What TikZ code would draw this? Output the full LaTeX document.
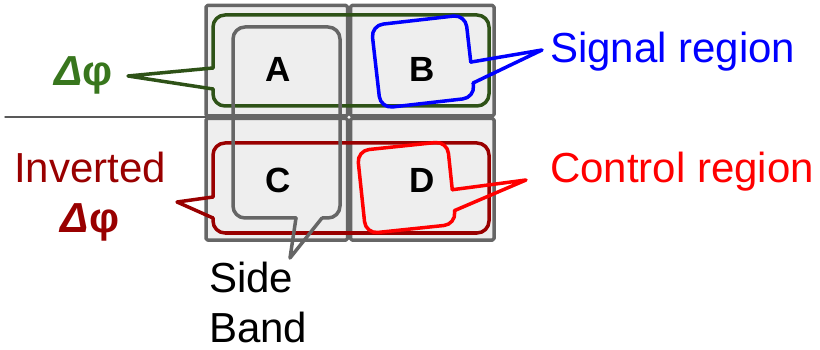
\documentclass[tikz,border=0pt]{standalone}
\usepackage{fontspec}
\setmainfont{Liberation Sans}
\definecolor{gridgray}{HTML}{666666}
\definecolor{rulegray}{HTML}{595959}
\definecolor{cellfill}{HTML}{EEEEEE}
\definecolor{boxgreen}{HTML}{2E5217}
\definecolor{dphigreen}{HTML}{38761D}
\definecolor{darkred}{HTML}{990000}
\definecolor{sigblue}{HTML}{0000FF}
\definecolor{ctrlred}{HTML}{FF0000}
\begin{document}
\begin{tikzpicture}[x=1pt,y=-1pt,line join=round,line cap=round,
  cellbox/.style={draw=gridgray,fill=cellfill,line width=3.5pt,rounded corners=1.5pt},
  callout/.style={line width=3.5pt,rounded corners=12pt},
  pointer/.style={line width=3.5pt,sharp corners},
  letter/.style={font=\fontsize{35}{40}\selectfont\bfseries,inner sep=0pt},
  txt/.style={font=\fontsize{42}{50}\selectfont,inner sep=0pt},
]
\useasboundingbox (0,0) rectangle (820,350);

% separator rule
\draw[draw=rulegray,line width=1.5pt] (5,117) -- (206,117);

% the four cells
\draw[cellbox] (206,5.5) rectangle (347.5,116);
\draw[cellbox] (350.5,5.5) rectangle (494,116);
\draw[cellbox] (206,118.5) rectangle (347.5,240);
\draw[cellbox] (350.5,118.5) rectangle (494,240);

\node[letter] (A) at (278,69) {A};
\node[letter] (B) at (422,69) {B};
\node[letter] (C) at (278,180) {C};
\node[letter] (D) at (422,180) {D};

% labels
\node[txt,text=dphigreen,anchor=base west,font=\fontsize{42}{50}\selectfont\bfseries] (dphi) at (54,86) {\textit{Δ}φ};
\node[txt,text=darkred,align=center,anchor=north] (inv) at (90,152) {Inverted\\\textbf{\textit{Δ}φ}};
\node[txt,anchor=north west,align=left] (side) at (209,262) {Side\\Band};
\node[txt,text=sigblue,anchor=base west] (sig) at (550,63) {Signal region};
\node[txt,text=ctrlred,anchor=base west] (ctl) at (550,183) {Control region};

% pointer tips
\coordinate (gtip) at (128,76);
\coordinate (rtip) at (177,202);
\coordinate (stip) at (290,258);
\coordinate (btip) at (542,50);
\coordinate (ctip) at (526,180);

% delta-phi row callout
\draw[callout,draw=boxgreen] (213,89) -- (213,106) -- (489,106) -- (489,15) -- (213,15) -- (213,68);
\draw[pointer,draw=boxgreen] (213,68) -- (gtip) -- (213,89);

% inverted delta-phi row callout
\draw[callout,draw=darkred] (213,218) -- (213,233) -- (489,233) -- (489,143) -- (213,143) -- (213,197);
\draw[pointer,draw=darkred] (213,197) -- (rtip) -- (213,218);

% side band column callout
\draw[callout,draw=gridgray] (296,218) -- (233,218) -- (233,27) -- (340,27) -- (340,218) -- (322,218);
\draw[pointer,draw=gridgray] (296,218) -- (stip) -- (322,218);

% signal region callout
\begin{scope}[shift={(423,61.5)},rotate=6.5]
  \draw[callout,draw=sigblue] (47.4,27) -- (47.4,41.7) -- (-47.4,41.7) -- (-47.4,-41.7) -- (47.4,-41.7) -- (47.4,6);
  \coordinate (bb1) at (47.4,6);
  \coordinate (bb2) at (47.4,27);
\end{scope}
\draw[pointer,draw=sigblue] (bb1) -- (btip) -- (bb2);

% control region callout
\begin{scope}[shift={(406.5,187.5)},rotate=6]
  \draw[callout,draw=ctrlred] (45.3,28) -- (45.3,41.7) -- (-45.3,41.7) -- (-45.3,-41.7) -- (45.3,-41.7) -- (45.3,7);
  \coordinate (cb1) at (45.3,7);
  \coordinate (cb2) at (45.3,28);
\end{scope}
\draw[pointer,draw=ctrlred] (cb1) -- (ctip) -- (cb2);
\end{tikzpicture}
\end{document}
